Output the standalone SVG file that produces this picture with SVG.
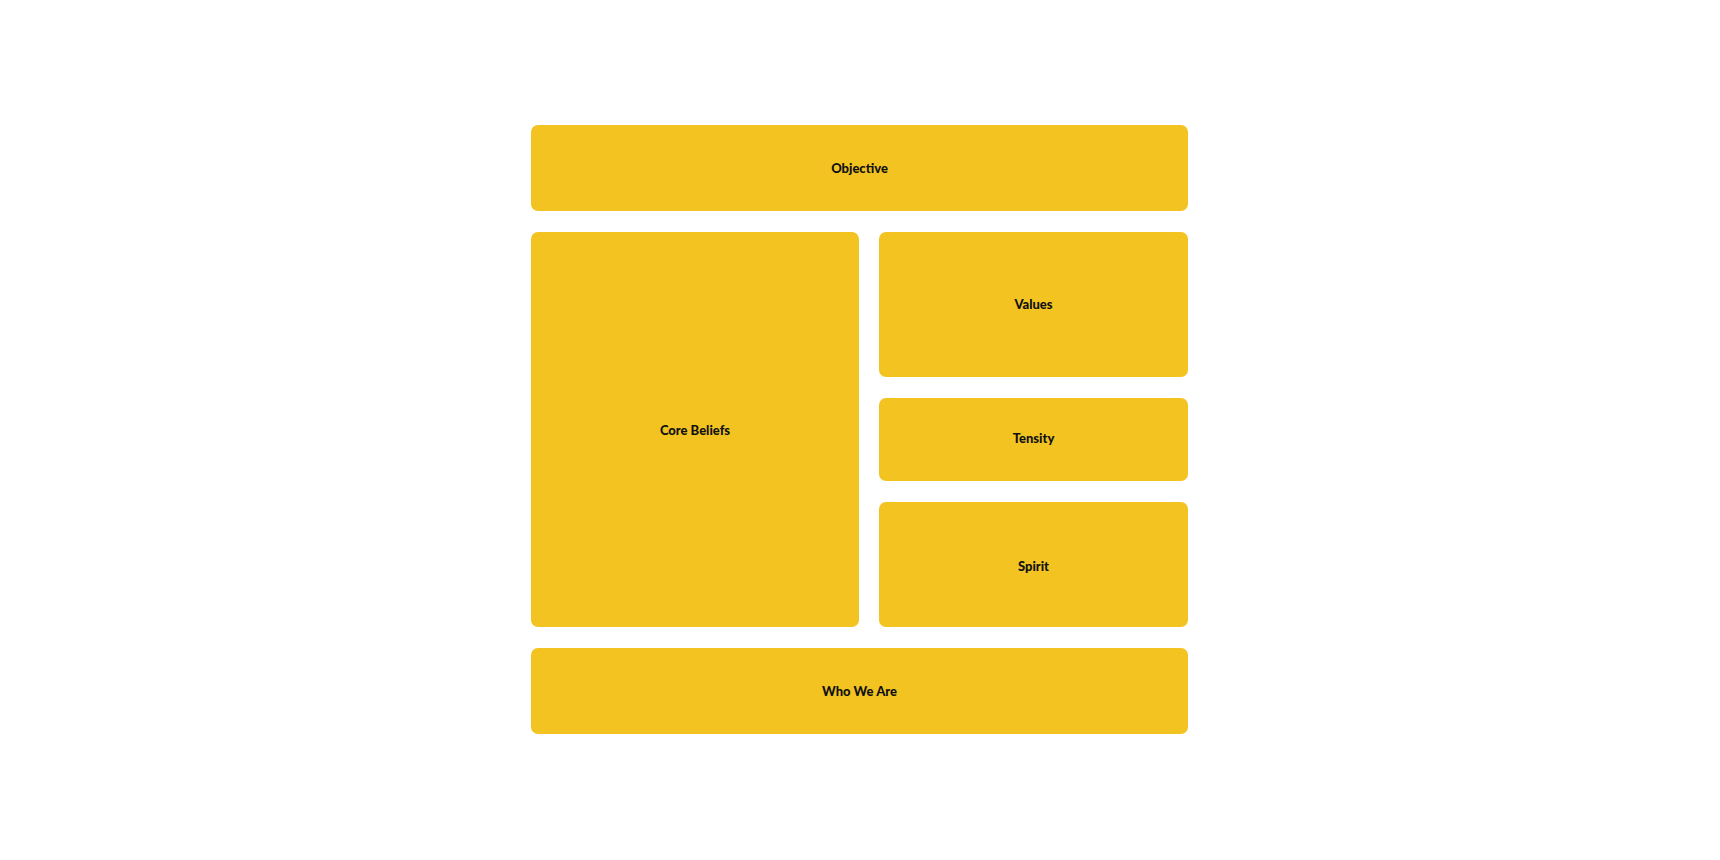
<svg xmlns="http://www.w3.org/2000/svg" width="1720" height="860" viewBox="0 0 1720 860">
<style>
.box{fill:#F3C421;}
.lbl{font-family:Lato,"Liberation Sans",sans-serif;font-weight:900;font-size:13px;fill:#111111;text-anchor:middle;dominant-baseline:central;}
</style>
<rect width="1720" height="860" fill="#ffffff"/>
<g id="objective"><rect class="box" x="531" y="125" width="657" height="86" rx="7"/><text class="lbl" x="859.5" y="168">Objective</text></g>
<g id="core-beliefs"><rect class="box" x="531" y="232" width="328" height="395" rx="7"/><text class="lbl" x="695" y="430">Core Beliefs</text></g>
<g id="values"><rect class="box" x="879" y="232" width="309" height="145" rx="7"/><text class="lbl" x="1033.5" y="304">Values</text></g>
<g id="tensity"><rect class="box" x="879" y="398" width="309" height="83" rx="7"/><text class="lbl" x="1033.5" y="438">Tensity</text></g>
<g id="spirit"><rect class="box" x="879" y="502" width="309" height="125" rx="7"/><text class="lbl" x="1033.5" y="566">Spirit</text></g>
<g id="who-we-are"><rect class="box" x="531" y="648" width="657" height="86" rx="7"/><text class="lbl" x="859.5" y="691">Who We Are</text></g>
<g id="connectors"></g>
</svg>
